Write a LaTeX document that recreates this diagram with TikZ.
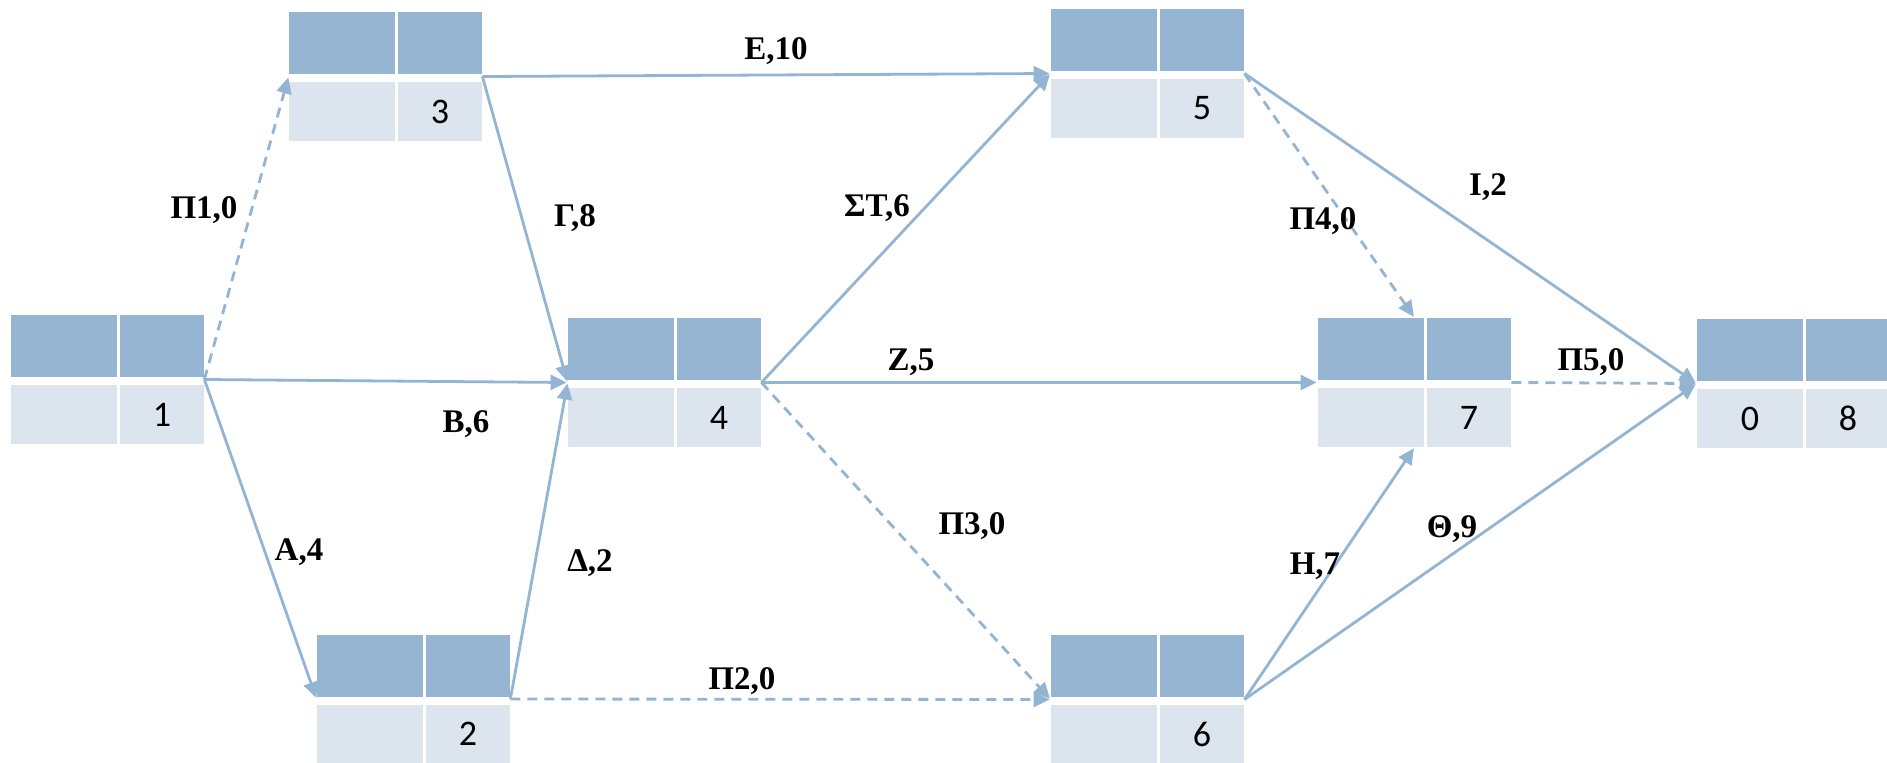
\documentclass[tikz,border=0pt]{standalone}
\usepackage{fontspec}
\setmainfont{Liberation Serif}
\newfontfamily\numfont{Carlito}
\usetikzlibrary{arrows.meta}
\definecolor{celldark}{HTML}{95B5D3}
\definecolor{celllight}{HTML}{DCE4EE}
\definecolor{linecol}{HTML}{94B4D4}
\tikzset{
  conn/.style={draw=linecol, line width=1.4pt, -{Triangle[length=8pt,width=7.5pt]}, shorten >=0.5pt},
  dconn/.style={conn, dash pattern=on 5pt off 3.5pt},
  elabel/.style={font=\fontsize{16.5}{18}\selectfont\bfseries, inner sep=0pt},
  numtext/.style={font=\numfont\fontsize{18}{20}\selectfont, inner sep=0pt},
  evbox/.style={inner sep=0pt, minimum width=96.5pt, minimum height=64.5pt}
}
% name, left x, gap y, left text, right text
\newcommand\evnode[5]{%
  \fill[celldark] ({#2},{#3-66}) rectangle ({#2+106},{#3-4});
  \fill[celldark] ({#2+109},{#3-66}) rectangle ({#2+193},{#3-4});
  \fill[celllight] ({#2},{#3+4}) rectangle ({#2+106},{#3+63});
  \fill[celllight] ({#2+109},{#3+4}) rectangle ({#2+193},{#3+63});
  \node[evbox] (#1) at ({#2+96.5},{#3-1.5}) {};
  \node[numtext] (#1L) at ({#2+53},{#3+33.5}) {#4};
  \node[numtext] (#1R) at ({#2+151},{#3+33.5}) {#5};
}
\begin{document}
\begin{tikzpicture}[x=0.5pt,y=-0.5pt]
\useasboundingbox (0,0) rectangle (1887,762);
\evnode{n1}{11}{381}{}{1}
\evnode{n3}{289}{78}{}{3}
\evnode{n2}{317}{700.5}{}{2}
\evnode{n4}{568}{384}{}{4}
\evnode{n5}{1051}{75}{}{5}
\evnode{n7}{1318}{384}{}{7}
\evnode{n6}{1051}{701}{}{6}
\evnode{n8}{1697}{385}{0}{8}

\draw[dconn] (n1.east) -- (n3.west);
\draw[conn] (n1.east) -- (n4.west);
\draw[conn] (n1.east) -- (n2.west);
\draw[conn] (n3.east) -- (n4.west);
\draw[conn] (n2.east) -- (n4.west);
\draw[dconn] (n2.east) -- (n6.west);
\draw[conn] (n3.east) -- (n5.west);
\draw[conn] (n4.east) -- (n5.west);
\draw[conn] (n4.east) -- (n7.west);
\draw[dconn] (n4.east) -- (n6.west);
\draw[dconn] (n5.east) -- (n7.north);
\draw[conn] (n5.east) -- (n8.west);
\draw[conn] (n6.east) -- (n7.south);
\draw[conn] (n6.east) -- (n8.west);
\draw[dconn] (n7.east) -- (n8.west);

\node[elabel] (lE) at (776,51) {E,10};
\node[elabel] (lP1) at (204,210) {Π1,0};
\node[elabel] (lG) at (575,218) {Γ,8};
\node[elabel] (lST) at (877,208) {ΣΤ,6};
\node[elabel] (lP4) at (1323,221) {Π4,0};
\node[elabel] (lI) at (1488,187) {Ι,2};
\node[elabel] (lZ) at (911,362) {Ζ,5};
\node[elabel] (lP5) at (1591,362) {Π5,0};
\node[elabel] (lB) at (466,424) {Β,6};
\node[elabel] (lA) at (299,552) {Α,4};
\node[elabel] (lD) at (590,563) {Δ,2};
\node[elabel] (lP3) at (972,526) {Π3,0};
\node[elabel] (lP2) at (742,681) {Π2,0};
\node[elabel] (lH) at (1315,566) {Η,7};
\node[elabel] (lTh) at (1452,529) {Θ,9};
\end{tikzpicture}
\end{document}
